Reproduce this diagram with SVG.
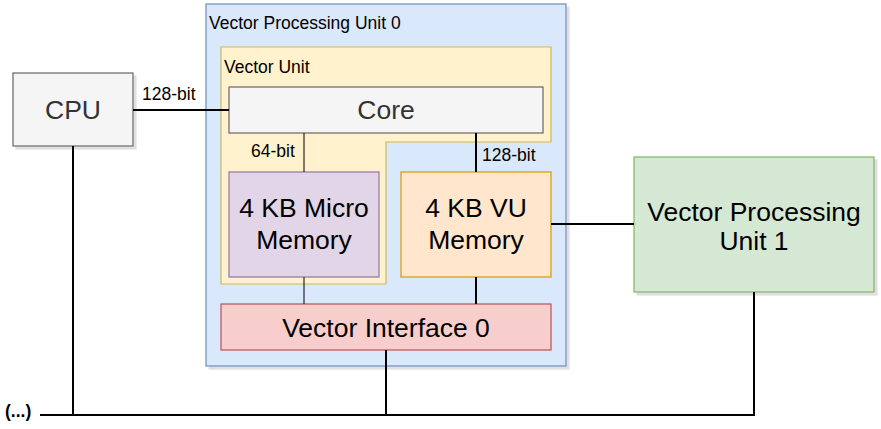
<svg xmlns="http://www.w3.org/2000/svg" width="881" height="429" viewBox="0 0 881 429">
<defs>
<filter id="sh" x="-5%" y="-5%" width="115%" height="115%">
<feOffset in="SourceAlpha" dx="3" dy="3" result="o"/>
<feColorMatrix in="o" type="matrix" values="0 0 0 0 0.5  0 0 0 0 0.5  0 0 0 0 0.5  0 0 0 0.45 0" result="c"/>
<feMerge><feMergeNode in="c"/><feMergeNode in="SourceGraphic"/></feMerge>
</filter>
</defs>
<style>
text{font-family:"Liberation Sans",Arial,sans-serif;fill:#000}
.big{font-size:26.5px;text-anchor:middle}
.sm{font-size:17.5px}
.grey{fill:#333333}
.ln{stroke:#000;stroke-width:2;fill:none}
.thin{stroke:#000;stroke-width:1;fill:none}
</style>
<rect width="881" height="429" fill="#ffffff"/>
<g id="vpu0">
<rect x="206" y="4" width="360" height="362" fill="#dae8fc" stroke="#6c8ebf" stroke-width="1.2" filter="url(#sh)"/>
<text class="sm" x="209" y="29">Vector Processing Unit 0</text>
</g>
<g id="vector-unit">
<polygon points="221,47 551,47 551,142 386,142 386,284 221,284" fill="#fff2cc" stroke="#d6b656" stroke-width="1.2"/>
<text class="sm" x="224" y="73">Vector Unit</text>
</g>
<g id="cpu">
<rect x="13" y="73" width="120" height="73" fill="#f5f5f5" stroke="#666666" stroke-width="1.2" filter="url(#sh)"/>
<text class="big grey" x="73" y="119">CPU</text>
</g>
<g id="core">
<rect x="229" y="87" width="314" height="46" fill="#f5f5f5" stroke="#666666" stroke-width="1.2"/>
<text class="big grey" x="386" y="119">Core</text>
</g>
<g id="micro-memory">
<rect x="229" y="172" width="150" height="105" fill="#e1d5e7" stroke="#9673a6" stroke-width="1.2"/>
<text class="big" x="304" y="217">4 KB Micro</text>
<text class="big" x="304" y="249">Memory</text>
</g>
<g id="vu-memory">
<rect x="401" y="172" width="150" height="105" fill="#ffe6cc" stroke="#d79b00" stroke-width="1.2"/>
<text class="big" x="476" y="217">4 KB VU</text>
<text class="big" x="476" y="249">Memory</text>
</g>
<g id="vector-interface">
<rect x="221" y="304" width="330" height="46" fill="#f8cecc" stroke="#b85450" stroke-width="1.2"/>
<text class="big" x="386" y="337">Vector Interface 0</text>
</g>
<g id="vpu1">
<rect x="634" y="157" width="240" height="135" fill="#d5e8d4" stroke="#82b366" stroke-width="1.2" filter="url(#sh)"/>
<text class="big" x="754" y="221">Vector Processing</text>
<text class="big" x="754" y="250">Unit 1</text>
</g>
<g id="connectors">
<line class="ln" x1="133" y1="110" x2="229" y2="110"/>
<line class="thin" x1="304" y1="133" x2="304" y2="172"/>
<line class="ln" x1="476" y1="133" x2="476" y2="172"/>
<line class="thin" x1="304" y1="277" x2="304" y2="304"/>
<line class="ln" x1="476" y1="277" x2="476" y2="304"/>
<line class="ln" x1="551" y1="224" x2="634" y2="224"/>
<line class="ln" x1="386" y1="350" x2="386" y2="415"/>
<line class="ln" x1="73" y1="146" x2="73" y2="415"/>
<line class="ln" x1="754" y1="292" x2="754" y2="415"/>
<line class="ln" x1="40" y1="415" x2="755" y2="415"/>
<text class="sm" x="142" y="100">128-bit</text>
<text class="sm" x="251" y="157">64-bit</text>
<text class="sm" x="482" y="161">128-bit</text>
<text class="sm" x="5" y="417" style="font-weight:bold">(...)</text>
</g>
</svg>
